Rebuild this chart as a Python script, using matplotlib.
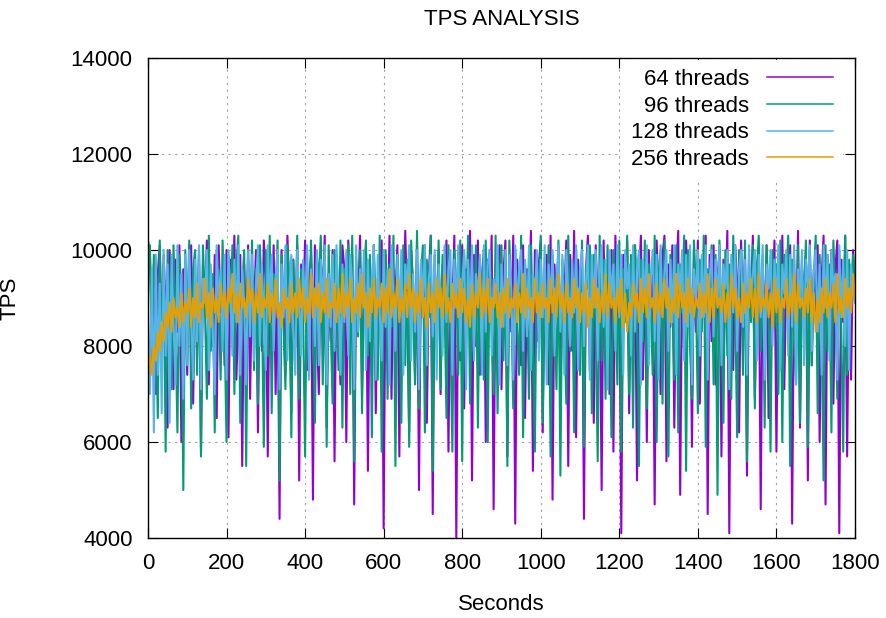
import numpy as np
import matplotlib.pyplot as plt

plt.rcParams["font.family"] = ["Liberation Sans", "DejaVu Sans"]

# TPS sampled every 5 s, values in hundreds of TPS
STEP = 5

tps_64 = [
    102, 99, 84, 97, 70, 95, 101, 77, 99, 88, 63, 100, 92, 71, 98, 83, 101, 60, 96, 90,
    74, 99, 101, 68, 93, 85, 100, 58, 97, 89, 102, 72, 96, 80, 99, 65, 101, 87, 94, 76,
    100, 61, 98, 90, 103, 73, 86, 99, 55, 97, 82, 101, 69, 95, 88, 100, 62, 98, 79, 102,
    94, 57, 99, 85, 101, 70, 96, 44, 100, 88, 74, 103, 91, 66, 98, 80, 101, 52, 97, 86,
    102, 75, 93, 99, 48, 101, 84, 70, 98, 90, 103, 63, 95, 81, 100, 56, 99, 87, 72, 101,
    96, 60, 102, 83, 99, 47, 97, 89, 103, 71, 92, 100, 54, 98, 80, 101, 66, 94, 88, 102,
    42, 99, 84, 103, 69, 96, 90, 101, 57, 98, 76, 104, 88, 62, 100, 93, 73, 102, 50, 97,
    86, 101, 64, 95, 103, 45, 99, 82, 100, 70, 97, 91, 102, 58, 94, 87, 103, 40, 98, 77,
    101, 67, 96, 89, 104, 52, 99, 80, 102, 74, 93, 100, 60, 98, 86, 103, 46, 97, 88, 101,
    71, 95, 102, 57, 99, 83, 103, 43, 98, 90, 76, 101, 65, 96, 88, 104, 54, 100, 81, 97,
    102, 62, 94, 99, 72, 103, 48, 97, 86, 101, 68, 95, 90, 102, 55, 99, 79, 104, 61, 98,
    87, 100, 44, 96, 103, 75, 98, 64, 101, 89, 93, 50, 102, 82, 97, 70, 100, 58, 103, 86,
    95, 41, 99, 88, 102, 66, 97, 80, 101, 52, 94, 103, 73, 98, 60, 100, 85, 96, 47, 102,
    90, 70, 99, 103, 56, 97, 84, 101, 63, 95, 104, 49, 98, 78, 102, 88, 93, 59, 100, 83,
    102, 68, 96, 90, 103, 45, 99, 81, 101, 72, 94, 100, 57, 98, 87, 104, 41, 97, 75, 101,
    93, 62, 102, 86, 99, 53, 97, 89, 103, 69, 95, 100, 46, 98, 82, 101, 65, 96, 90, 102,
    58, 99, 84, 103, 71, 95, 88, 101, 43, 98, 79, 104, 63, 97, 90, 100, 52, 102, 76, 96,
    87, 101, 60, 94, 103, 47, 99, 83, 100, 68, 96, 102, 41, 98, 85, 103, 57, 97, 73, 100,
    90,
]

tps_96 = [
    95, 101, 76, 99, 88, 65, 102, 80, 97, 58, 100, 90, 71, 101, 85, 62, 99, 92, 50, 100,
    83, 102, 67, 96, 100, 74, 98, 57, 101, 88, 69, 103, 79, 95, 62, 100, 91, 73, 102, 84,
    60, 99, 87, 101, 70, 97, 103, 64, 92, 100, 55, 98, 82, 102, 75, 96, 68, 101, 89, 59,
    100, 78, 103, 66, 95, 90, 102, 52, 99, 84, 71, 101, 93, 61, 98, 80, 103, 69, 96, 87,
    57, 100, 76, 102, 88, 64, 99, 93, 103, 72, 97, 59, 101, 85, 68, 100, 91, 75, 102, 63,
    96, 89, 101, 70, 103, 56, 98, 82, 100, 66, 94, 102, 78, 99, 61, 101, 87, 73, 103, 58,
    92, 100, 69, 97, 84, 103, 55, 99, 88, 64, 101, 76, 98, 59, 102, 90, 72, 104, 67, 95,
    101, 62, 98, 86, 103, 54, 97, 80, 102, 71, 99, 90, 65, 101, 83, 58, 100, 93, 74, 102,
    56, 99, 87, 103, 68, 96, 81, 101, 63, 98, 92, 73, 102, 60, 100, 85, 70, 103, 66, 95,
    101, 77, 98, 55, 102, 89, 67, 100, 84, 74, 103, 61, 97, 91, 69, 101, 80, 58, 99, 88,
    103, 64, 96, 82, 101, 57, 99, 90, 71, 102, 53, 98, 86, 68, 103, 79, 95, 62, 100, 87,
    74, 102, 59, 97, 92, 101, 66, 99, 83, 56, 103, 77, 98, 69, 101, 88, 61, 100, 93, 72,
    102, 58, 96, 85, 103, 70, 99, 63, 101, 90, 55, 98, 81, 102, 67, 97, 89, 74, 103, 60,
    95, 100, 68, 102, 84, 57, 99, 92, 73, 101, 62, 97, 87, 103, 54, 100, 80, 69, 102, 91,
    66, 98, 83, 103, 59, 96, 90, 101, 72, 99, 49, 102, 86, 64, 100, 78, 97, 69, 103, 88,
    61, 100, 93, 74, 102, 56, 98, 85, 101, 67, 96, 103, 79, 99, 63, 101, 89, 58, 100, 84,
    97, 70, 102, 60, 99, 92, 103, 55, 98, 81, 72, 101, 64, 96, 88, 102, 59, 100, 76, 94,
    103, 66, 99, 86, 52, 101, 79, 97, 62, 102, 90, 69, 100, 84, 58, 103, 74, 98, 88, 99,
    93,
]

tps_128 = [
    88, 70, 96, 62, 99, 74, 93, 66, 100, 78, 97, 64, 99, 85, 72, 101, 80, 95, 69, 99,
    76, 100, 86, 73, 98, 81, 101, 71, 94, 89, 100, 75, 97, 83, 70, 101, 88, 96, 79, 99,
    73, 100, 90, 78, 98, 85, 101, 74, 96, 88, 72, 100, 82, 99, 77, 93, 101, 80, 97, 86,
    75, 101, 89, 99, 79, 94, 100, 71, 97, 86, 101, 77, 92, 99, 83, 74, 100, 90, 78, 98,
    87, 101, 73, 96, 92, 80, 100, 76, 98, 88, 101, 72, 95, 84, 99, 79, 101, 91, 74, 97,
    85, 100, 78, 99, 93, 71, 101, 83, 96, 89, 100, 75, 98, 81, 94, 101, 73, 99, 87, 77,
    100, 84, 96, 72, 101, 90, 79, 99, 86, 100, 74, 97, 92, 101, 77, 95, 83, 100, 71, 98,
    89, 101, 76, 94, 99, 82, 100, 73, 97, 91, 78, 101, 85, 96, 100, 74, 98, 88, 101, 79,
    93, 100, 71, 98, 86, 101, 77, 95, 90, 99, 74, 101, 83, 97, 100, 78, 94, 89, 101, 72,
    97, 84, 100, 76, 99, 92, 73, 101, 87, 96, 100, 79, 98, 82, 101, 75, 95, 90, 100, 77,
    98, 86, 101, 72, 97, 89, 100, 78, 94, 101, 83, 99, 74, 100, 91, 80, 98, 87, 101, 75,
    96, 100, 80, 93, 101, 73, 99, 88, 100, 77, 95, 101, 84, 98, 71, 100, 90, 97, 79, 101,
    86, 99, 74, 100, 92, 97, 78, 101, 83, 96, 100, 72, 98, 89, 101, 76, 94, 100, 81, 99,
    73, 101, 88, 95, 100, 79, 98, 85, 101, 74, 97, 91, 100, 77, 99, 84, 101, 72, 96, 90,
    100, 78, 99, 86, 101, 73, 94, 100, 82, 98, 89, 101, 76, 97, 92, 100, 71, 99, 87, 101,
    79, 96, 100, 84, 98, 74, 101, 90, 95, 100, 77, 99, 86, 101, 73, 97, 92, 100, 80, 98,
    88, 101, 75, 97, 91, 100, 78, 99, 84, 101, 72, 96, 89, 100, 76, 98, 93, 101, 79, 95,
    100, 83, 97, 74, 101, 88, 99, 77, 100, 92, 95, 73, 101, 86, 98, 80, 100, 75, 97, 91,
    89,
]

tps_256 = [
    75, 78, 74, 80, 77, 83, 79, 85, 81, 87, 84, 89, 83, 90, 86, 88, 84, 91, 85, 89,
    87, 92, 84, 90, 86, 93, 85, 89, 88, 94, 86, 91, 84, 92, 87, 90, 85, 93, 88, 91,
    86, 92, 89, 95, 87, 91, 85, 93, 88, 90, 86, 94, 89, 92, 85, 91, 87, 95, 86, 90,
    88, 93, 85, 91, 87, 94, 86, 89, 84, 92, 88, 90, 85, 93, 87, 91, 86, 94, 88, 92,
    85, 90, 87, 95, 86, 92, 88, 93, 85, 91, 87, 94, 86, 89, 88, 93, 85, 92, 87, 95,
    86, 91, 88, 94, 85, 90, 87, 93, 86, 95, 88, 91, 84, 92, 87, 94, 86, 90, 88, 93,
    85, 92, 87, 96, 86, 91, 88, 94, 85, 90, 87, 93, 86, 95, 88, 92, 85, 91, 87, 94,
    86, 90, 84, 93, 87, 91, 85, 94, 88, 92, 86, 95, 87, 90, 85, 93, 88, 91, 86, 94,
    87, 92, 85, 90, 84, 93, 86, 91, 88, 95, 86, 92, 87, 94, 85, 90, 88, 93, 86, 91,
    84, 92, 87, 94, 86, 90, 88, 93, 85, 91, 87, 95, 86, 92, 88, 90, 85, 94, 87, 91,
    86, 93, 88, 90, 85, 94, 87, 92, 86, 95, 88, 91, 85, 93, 87, 90, 86, 94, 88, 92,
    85, 91, 87, 93, 84, 90, 86, 94, 88, 92, 85, 91, 87, 95, 86, 93, 88, 90, 85, 92,
    87, 94, 84, 91, 83, 89, 86, 93, 88, 91, 85, 94, 87, 92, 86, 95, 88, 90, 85, 93,
    87, 91, 86, 94, 88, 92, 85, 90, 87, 95, 86, 93, 88, 91, 85, 94, 87, 92, 86, 90,
    88, 93, 86, 91, 87, 95, 85, 92, 86, 94, 88, 90, 87, 93, 85, 91, 86, 95, 88, 92,
    86, 90, 85, 93, 87, 91, 88, 94, 86, 92, 85, 95, 87, 90, 88, 93, 86, 91, 84, 94,
    87, 92, 85, 90, 88, 94, 86, 91, 87, 95, 85, 93, 88, 90, 86, 92, 87, 94, 85, 91,
    83, 90, 85, 92, 87, 94, 86, 91, 88, 93, 85, 95, 87, 90, 86, 94, 88, 92, 87, 95,
    90,
]

series = [
    ("64 threads", tps_64, "#9400d3"),
    ("96 threads", tps_96, "#009e73"),
    ("128 threads", tps_128, "#56b4e9"),
    ("256 threads", tps_256, "#e69f00"),
]

fig = plt.figure(figsize=(8.86, 6.18), dpi=100)
ax = fig.add_axes([0.167, 0.1294, 0.798, 0.7766])

for label, values, color in series:
    seconds = np.arange(len(values)) * STEP
    ax.plot(seconds, np.array(values) * 100, color=color, linewidth=1.5, label=label)

ax.set_xlim(0, 1800)
ax.set_ylim(4000, 14000)
ax.set_xticks(np.arange(0, 1801, 200))
ax.set_yticks(np.arange(4000, 14001, 2000))
ax.tick_params(direction="in", top=True, right=True, labelsize=16, length=7, pad=11)
ax.grid(True, linestyle=(0, (2, 4)), color="#a0a0a0", linewidth=0.8)
ax.set_axisbelow(True)
for spine in ax.spines.values():
    spine.set_linewidth(1.0)

ax.set_title("TPS ANALYSIS", fontsize=16, pad=24)
ax.set_xlabel("Seconds", fontsize=16, labelpad=14)
ax.set_ylabel("TPS", fontsize=16, labelpad=36)

leg = ax.legend(loc="upper right", markerfirst=False, fontsize=16, frameon=True,
                fancybox=False, edgecolor="white", framealpha=1.0,
                handlelength=3.0, handletextpad=0.8, borderaxespad=0.1,
                labelspacing=0.25, bbox_to_anchor=(0.985, 1.0))
for t in leg.get_texts():
    t.set_ha("right")
for line in leg.get_lines():
    line.set_linewidth(1.1)
leg.set_zorder(5)

fig.savefig("out.png", dpi=100)
